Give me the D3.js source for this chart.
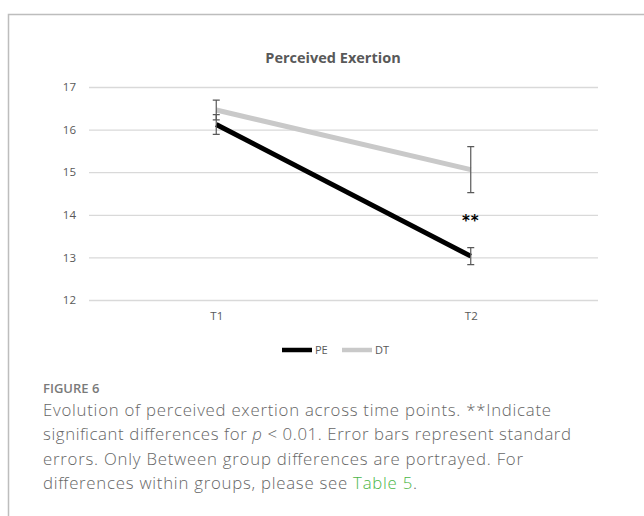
<!DOCTYPE html>
<html>
<head>
<meta charset="utf-8">
<script src="https://cdn.jsdelivr.net/npm/d3@7"></script>
<style>
  body { margin: 0; background: #fff; }
  svg { display: block; }
</style>
</head>
<body>
<div id="chart"></div>
<script>
// data
const timePoints = ["T1", "T2"];
const seriesNames = ["PE", "DT"];
const peValues = [16.12, 13.03];
const peErrors = [0.23, 0.2];
const dtValues = [16.46, 15.06];
const dtErrors = [0.23, 0.54];
const yTicks = [12, 13, 14, 15, 16, 17];
const sigMarks = [{time: "T2", label: "**", value: 14.0}];
const captionLines = [
  "Evolution of perceived exertion across time points. **Indicate",
  "significant differences for |p| < 0.01. Error bars represent standard",
  "errors. Only Between group differences are portrayed. For",
  "differences within groups, please see |Table 5|."
];

const width = 644, height = 516;
const margins = {top: 87, right: 46, bottom: 216, left: 89};
const color = d3.scaleOrdinal().domain(seriesNames).range(["#000000", "#c9c9c9"]);

const series = [
  {name: "DT", values: dtValues, errors: dtErrors},
  {name: "PE", values: peValues, errors: peErrors}
].map(s => ({name: s.name, points: timePoints.map((t, i) => ({time: t, value: s.values[i], err: s.errors[i]}))}));

const svg = d3.select("#chart")
  .append("svg")
  .attr("width", width)
  .attr("height", height);

// outer frame (top and left only)
svg.append("path")
  .attr("d", `M8.5,${height} V14.5 H${width}`)
  .style("fill", "none")
  .style("stroke", "#bdbdbd")
  .style("stroke-width", 1.5);

const xScale = d3.scalePoint()
  .domain(timePoints)
  .range([margins.left, width - margins.right])
  .padding(0.5);

const yScale = d3.scaleLinear()
  .domain([12, 17])
  .range([height - margins.bottom, margins.top]);

// title
svg.append("text")
  .attr("x", 333)
  .attr("y", 63)
  .attr("text-anchor", "middle")
  .style("font-family", "'Open Sans', sans-serif")
  .style("font-weight", "bold")
  .style("font-size", "14.5px")
  .style("fill", "#595959")
  .text("Perceived Exertion");

// gridlines + y labels
const yAxis = d3.axisLeft(yScale)
  .tickValues(yTicks)
  .tickFormat(d3.format("d"))
  .tickSize(-(width - margins.left - margins.right))
  .tickPadding(13);
svg.append("g")
  .attr("transform", `translate(${margins.left},0)`)
  .call(yAxis)
  .call(g => g.select(".domain").remove())
  .call(g => g.selectAll("line").style("stroke", "#d9d9d9").style("stroke-width", 1.3))
  .call(g => g.selectAll("text")
    .style("font-family", "'Open Sans', sans-serif")
    .style("font-size", "11.5px")
    .style("fill", "#595959"));

// x labels
const xAxis = d3.axisBottom(xScale).tickSize(0).tickPadding(12);
svg.append("g")
  .attr("transform", `translate(0,${height - margins.bottom})`)
  .call(xAxis)
  .call(g => g.select(".domain").remove())
  .call(g => g.selectAll("text")
    .style("font-family", "'Open Sans', sans-serif")
    .style("font-size", "11.5px")
    .style("fill", "#595959"));

// lines
const line = d3.line()
  .x(d => xScale(d.time))
  .y(d => yScale(d.value));

svg.selectAll("path.series")
  .data(series)
  .join("path")
    .attr("class", "series")
    .attr("d", d => line(d.points))
    .style("fill", "none")
    .style("stroke", d => color(d.name))
    .style("stroke-width", 5)
    .style("stroke-linecap", "butt");

// error bars
const errData = series.flatMap(s => s.points);
const capHalf = 3.5;
const errG = svg.append("g")
  .style("stroke", "#595959")
  .style("stroke-width", 1.2)
  .style("fill", "none");
errG.selectAll("path")
  .data(errData)
  .join("path")
    .attr("d", d => {
      const x = xScale(d.time);
      const y0 = yScale(d.value - d.err), y1 = yScale(d.value + d.err);
      return `M${x},${y1}V${y0}M${x - capHalf},${y1}H${x + capHalf}M${x - capHalf},${y0}H${x + capHalf}`;
    });

// significance marks
svg.selectAll("text.sig")
  .data(sigMarks)
  .join("text")
    .attr("class", "sig")
    .attr("x", d => xScale(d.time))
    .attr("y", d => yScale(d.value) + 11)
    .attr("text-anchor", "middle")
    .style("font-family", "'DejaVu Sans', sans-serif")
    .style("font-weight", "bold")
    .style("font-size", "15px")
    .style("letter-spacing", "1px")
    .text(d => d.label);

// legend
const legendPos = {PE: 282, DT: 342};
const legend = svg.selectAll("g.legend")
  .data(seriesNames)
  .join("g")
    .attr("class", "legend")
    .attr("transform", d => `translate(${legendPos[d]},350)`);
legend.append("line")
  .attr("x1", 0).attr("x2", 30)
  .style("stroke", d => color(d))
  .style("stroke-width", 4.5);
legend.append("text")
  .attr("x", 33)
  .attr("dy", "0.35em")
  .style("font-family", "'Open Sans', sans-serif")
  .style("font-size", "11px")
  .style("fill", "#595959")
  .text(d => d);

// caption
svg.append("text")
  .attr("x", 43)
  .attr("y", 393)
  .style("font-family", "'Open Sans', sans-serif")
  .style("font-weight", 600)
  .style("font-size", "13px")
  .style("fill", "#7a7a7a")
  .text("FIGURE 6");

const lineEnds = [551, 571, 523, 417];
const cap = svg.append("g")
  .style("font-family", "'Open Sans', sans-serif")
  .style("font-weight", 300)
  .style("font-size", "16.8px")
  .style("fill", "#666666");
captionLines.forEach((str, i) => {
  const t = cap.append("text")
    .attr("x", 43)
    .attr("y", 416 + i * 24.4)
    .attr("textLength", lineEnds[i] - 43)
    .attr("lengthAdjust", "spacing");
  str.split("|").forEach((part, j) => {
    const ts = t.append("tspan").text(part);
    if (j % 2 === 1) {
      if (part === "p") ts.style("font-style", "italic");
      else ts.style("fill", "#4cb648");
    }
  });
});
</script>
</body>
</html>
